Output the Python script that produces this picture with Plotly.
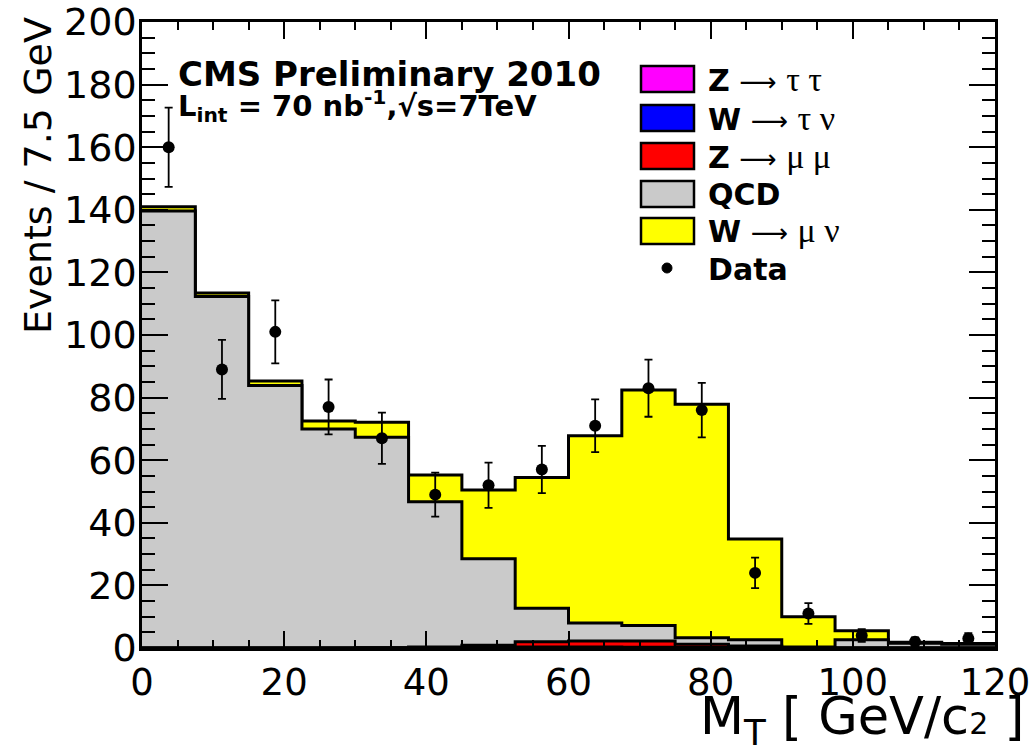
import numpy as np
import plotly.graph_objects as go

# ---------------- data ----------------
bin_edges = [0, 7.5, 15, 22.5, 30, 37.5, 45, 52.5, 60, 67.5, 75, 82.5, 90, 97.5, 105, 112.5, 120]
data_counts = [160, 89, 101, 77, 67, 49, 52, 57, 71, 83, 76, 24, 11, 4, 2, 3]
w_munu   = [1.4, 1.1, 1.4, 2.5, 4.8, 8.6, 22.0, 41.8, 59.8, 75.2, 74.6, 32.2, 9.7, 2.9, 0.3, 0.2]
qcd      = [139.6, 112.3, 83.9, 70.0, 67.25, 46.4, 27.6, 10.7, 5.8, 5.0, 2.1, 2.0, 0.2, 2.6, 1.5, 1.2]
z_mumu   = [0, 0, 0, 0, 0, 0.15, 0.65, 1.65, 1.85, 1.95, 1.05, 0.52, 0.08, 0, 0, 0]
w_taunu  = [0, 0, 0, 0, 0.03, 0.1, 0.15, 0.2, 0.2, 0.15, 0.1, 0.05, 0.02, 0, 0, 0]
z_tautau = [0, 0, 0, 0, 0.02, 0.05, 0.1, 0.15, 0.15, 0.1, 0.05, 0.03, 0, 0, 0, 0]

# legend entries: (bold part, symbol part, colour)
legend_bold = ["Z", "W", "Z", "QCD", "W"]
legend_sym = ["τ τ", "τ ν", "μ μ", "", "μ ν"]
legend_colors = ["#ff00ff", "#0000ff", "#ff0000", "#cacaca", "#ffff00"]

x_ticks = [0, 20, 40, 60, 80, 100, 120]
y_ticks = [0, 20, 40, 60, 80, 100, 120, 140, 160, 180, 200]

FONT = "DejaVu Sans"
SYMFONT = "Liberation Serif"

# ---------------- build stack ----------------
edges = np.array(bin_edges)
centers = 0.5 * (edges[:-1] + edges[1:])
c1 = np.array(z_tautau)
c2 = c1 + np.array(w_taunu)
c3 = c2 + np.array(z_mumu)
c4 = c3 + np.array(qcd)
c5 = c4 + np.array(w_munu)

fig = go.Figure()

# draw from the largest cumulative down (ROOT THStack style)
stack_layers = [(c5, legend_colors[4]), (c4, legend_colors[3]), (c3, legend_colors[2]),
                (c2, legend_colors[1]), (c1, legend_colors[0])]
for vals, col in stack_layers:
    yy = np.append(vals, vals[-1])
    fig.add_trace(go.Scatter(
        x=edges, y=yy, mode="lines", line=dict(shape="hv", color="black", width=3),
        fill="tozeroy", fillcolor=col, showlegend=False, hoverinfo="skip"))

data_arr = np.array(data_counts, dtype=float)
fig.add_trace(go.Scatter(
    x=centers, y=data_arr, mode="markers",
    marker=dict(color="black", size=12, symbol="circle"),
    error_y=dict(type="data", array=np.sqrt(data_arr), color="black", thickness=1.8, width=4),
    showlegend=False))

# ---------------- layout ----------------
L, R, T, B = 142, 41, 22, 107
W, H = 1036, 755
pw, ph = W - L - R, H - T - B


def px(xp):
    return (xp - L) / pw


def py(yp):
    return (H - B - yp) / ph


fig.update_layout(
    width=W, height=H, margin=dict(l=L, r=R, t=T, b=B, autoexpand=False),
    paper_bgcolor="white", plot_bgcolor="white", showlegend=False,
    font=dict(family=FONT, color="black"),
)
fig.update_xaxes(
    range=[0, 120], tickvals=x_ticks, ticks="inside", ticklen=17, tickwidth=1.5, tickcolor="black",
    minor=dict(ticks="inside", dtick=5, ticklen=8, tickwidth=1.5, tickcolor="black", showgrid=False),
    showline=True, linewidth=2.5, linecolor="black", mirror="allticks", showgrid=False, zeroline=False,
    tickfont=dict(family=FONT, size=37, color="black"),
)
fig.update_yaxes(
    range=[0, 200], tickvals=y_ticks, ticks="inside", ticklen=26, tickwidth=1.5, tickcolor="black",
    minor=dict(ticks="inside", dtick=5, ticklen=13, tickwidth=1.5, tickcolor="black", showgrid=False),
    showline=True, linewidth=2.5, linecolor="black", mirror="allticks", showgrid=False, zeroline=False,
    tickfont=dict(family=FONT, size=38, color="black"), ticklabelstandoff=-5,
)

ann = []
# axis titles
ann.append(dict(text="Events / 7.5 GeV", textangle=-90, xref="paper", yref="paper",
                x=px(38), y=py(176), xanchor="center", yanchor="middle", showarrow=False,
                font=dict(family=FONT, size=38, color="black")))
ann.append(dict(text="M<sub>T</sub> [ GeV/c<span style=\"font-size:30px\">2</span> ]",
                xref="paper", yref="paper",
                x=px(1026), y=py(720), xanchor="right", yanchor="middle", showarrow=False,
                font=dict(family=FONT, size=51, color="black")))
# CMS labels
ann.append(dict(text="<b>CMS Preliminary 2010</b>", xref="paper", yref="paper",
                x=px(176), y=py(74), xanchor="left", yanchor="middle", showarrow=False,
                font=dict(family=FONT, size=34, color="black")))
ann.append(dict(text="<b>L<sub>int</sub> = 70 nb<sup>-1</sup>,√s=7TeV</b>", xref="paper", yref="paper",
                x=px(176), y=py(106), xanchor="left", yanchor="middle", showarrow=False,
                font=dict(family=FONT, size=29, color="black")))

shapes = []
row_y = [79, 118, 156, 194, 231]
for i, (b, s, col) in enumerate(zip(legend_bold, legend_sym, legend_colors)):
    yc = row_y[i]
    shapes.append(dict(type="rect", xref="paper", yref="paper",
                       x0=px(641), x1=px(694), y0=py(yc + 13), y1=py(yc - 13),
                       fillcolor=col, line=dict(color="black", width=2.5)))
    txt = "<b>%s</b>" % b
    if s:
        txt += (" <span style=\"font-family:%s;font-size:26px\">⟶</span> "
                "<span style=\"font-family:%s;font-size:34px\">%s</span>") % (FONT, SYMFONT, s)
    ann.append(dict(text=txt, xref="paper", yref="paper", x=px(706), y=py(yc),
                    xanchor="left", yanchor="middle", showarrow=False,
                    font=dict(family=FONT, size=30, color="black")))
# data legend entry
shapes.append(dict(type="circle", xref="paper", yref="paper",
                   x0=px(662), x1=px(672), y0=py(273), y1=py(263),
                   fillcolor="black", line=dict(color="black", width=1)))
ann.append(dict(text="<b>Data</b>", xref="paper", yref="paper", x=px(706), y=py(269),
                xanchor="left", yanchor="middle", showarrow=False,
                font=dict(family=FONT, size=30, color="black")))

fig.update_layout(annotations=ann, shapes=shapes)
fig.write_html("out.html")
